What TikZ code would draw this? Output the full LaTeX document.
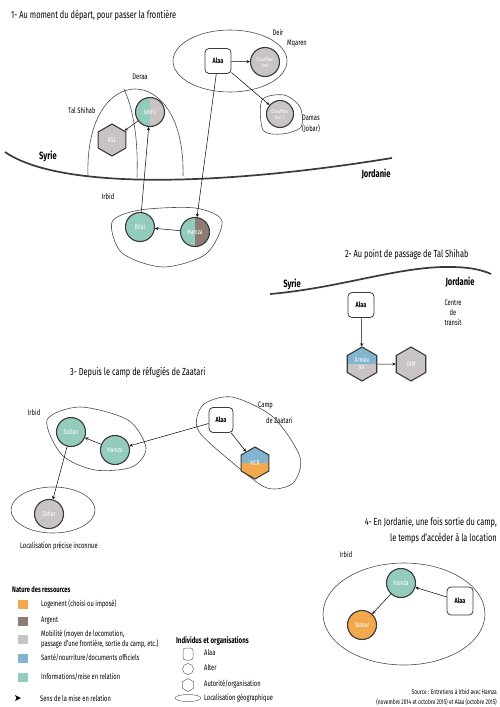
\documentclass[tikz,border=0pt]{standalone}
\usepackage{fontspec}
\setmainfont{Fira Sans}[FakeStretch=0.72]
\usetikzlibrary{shapes.geometric}

\definecolor{info}{HTML}{93CBBC}
\definecolor{argent}{HTML}{8E7B75}
\definecolor{mobil}{HTML}{C8C4C4}
\definecolor{sante}{HTML}{82B4CF}
\definecolor{logt}{HTML}{F2A94E}
\definecolor{trait}{HTML}{3A3A3A}

\tikzset{
  ttl/.style={font=\fontsize{10.3}{11}\selectfont, anchor=west, inner sep=0pt},
  lbl/.style={font=\fontsize{8}{10}\selectfont, align=center, inner sep=0pt},
  pays/.style={font=\fontsize{10.5}{12}\selectfont\bfseries, inner sep=0pt},
  ego/.style={draw=trait, line width=0.8pt, rounded corners=4pt, fill=white, minimum width=26pt, minimum height=25pt, inner sep=0pt, font=\fontsize{7.5}{8}\selectfont\bfseries},
  alter/.style={circle, draw=trait, line width=1.1pt, minimum size=29pt, inner sep=0pt, text=white, align=center, font=\fontsize{7}{7}\selectfont},
  org/.style={regular polygon, regular polygon sides=6, shape border rotate=30, draw=trait, line width=1.1pt, minimum size=34pt, inner sep=0pt, text=white, align=center, font=\fontsize{7}{7}\selectfont},
  moitieG/.style={path picture={\fill[#1] (path picture bounding box.south west) rectangle (path picture bounding box.north);}},
  moitieH/.style={path picture={\fill[#1] (path picture bounding box.west) rectangle (path picture bounding box.north east);}},
  lieu/.style={draw=black!70, line width=0.6pt},
  frontiere/.style={draw=trait, line width=1.7pt},
  fl/.style={-stealth, line width=0.5pt},
  leg/.style={font=\fontsize{8}{9.5}\selectfont, anchor=west, inner sep=0pt, align=left},
  sw/.style={fill=#1, minimum width=10pt, minimum height=9pt, inner sep=0pt},
}

\begin{document}
\begin{tikzpicture}[x=1pt, y=-1pt]
\useasboundingbox (0,0) rectangle (499,707);

% 1- au moment du depart
\node[ttl] (titreA) at (11,15) {1- Au moment du départ, pour passer la frontière};

\draw[lieu] (230,61) ellipse [x radius=57, y radius=31];
\draw[lieu] plot[smooth cycle] coordinates {(262,100) (284,95) (300,107) (301,127) (282,134) (263,130)};
\draw[lieu] (88,176) .. controls (84,60) and (186,60) .. (183,176);
\draw[lieu] (124,89) .. controls (136,115) and (138,150) .. (137,177);
\draw[lieu] plot[smooth cycle] coordinates {(112,222) (140,210) (195,208) (222,221) (206,254) (163,267) (122,253)};

\draw[frontiere] (5,152) .. controls (60,190) and (220,186) .. (392,158);

\node[lbl] (deir)    at (278,32) {Deir};
\node[lbl] (mqaren)  at (297,44) {Mqaren};
\node[lbl, anchor=west] (damas)   at (302,118) {Damas};
\node[lbl, anchor=west] (jobar)   at (302,129) {(Jobar)};
\node[lbl] (deraa)   at (140,77) {Deraa};
\node[lbl] (talshi)  at (82,110) {Tal Shihab};
\node[lbl] (irbidA)  at (108,196) {Irbid};
\node[pays] (syrieA) at (48,156) {Syrie};
\node[pays] (jordA)  at (376,174) {Jordanie};

\node[ego] (alaaA) at (218,61) {Alaa};
\node[alter, fill=mobil, font=\fontsize{5.5}{6}\selectfont] (taxiA) at (265,62) {Chauffeur\\taxi};
\node[alter, fill=mobil, minimum size=27pt, font=\fontsize{5.5}{6}\selectfont] (taxiB) at (280,114) {Chauffeur\\taxi 2};
\node[alter, fill=mobil, moitieG=info] (jebril) at (150,112) {Jebril};
\node[org, fill=mobil, minimum size=32pt] (asl) at (112,140) {ASL};
\node[alter, fill=info] (bilal) at (140,227) {Bilal};
\node[alter, fill=argent, moitieG=info] (hamzaA) at (195,232) {Hamza};

\draw[fl] (alaaA) -- (taxiA);
\draw[fl] (alaaA) -- (taxiB);
\draw[fl] (alaaA) -- (hamzaA);
\draw[fl] (jebril) -- (asl);
\draw[fl] (bilal) -- (jebril);
\draw[fl] (hamzaA) -- (bilal);

% 2- point de passage
\node[ttl] (titreB) at (345,255) {2- Au point de passage de Tal Shihab};
\draw[frontiere] (270,294) .. controls (340,288) and (400,266) .. (450,267) .. controls (470,267) and (482,270) .. (491,274);
\node[pays] (syrieB) at (292,284) {Syrie};
\node[pays] (jordB)  at (460,282) {Jordanie};
\node[lbl] (centre) at (453,313) {Centre\\de\\transit};

\node[ego] (alaaB) at (361,305) {Alaa};
\node[org, fill=mobil, moitieH=sante] (armee) at (362,364) {Armée\\Jor.};
\node[org, fill=mobil] (oim) at (411,364) {OIM};

\draw[fl] (alaaB) -- (armee);
\draw[fl] (armee) -- (oim);

% 3- camp de Zaatari
\node[ttl] (titreC) at (70,372) {3- Depuis le camp de réfugiés de Zaatari};
\draw[lieu] plot[smooth cycle] coordinates {(47,420) (80,407) (128,420) (146,448) (132,467) (95,470) (62,455)};
\draw[lieu] plot[smooth cycle] coordinates {(203,405) (232,397) (273,417) (300,457) (293,483) (267,488) (233,463) (198,430)};
\draw[lieu] (53,510) ellipse [x radius=42, y radius=23];

\node[lbl] (irbidC) at (34,412) {Irbid};
\node[lbl, anchor=west] (camp)  at (258,406) {Camp};
\node[lbl, anchor=west] (zaat)  at (266,420) {de Zaatari};
\node[lbl, anchor=west] (inconnu) at (20,546) {Localisation précise inconnue};

\node[ego, minimum width=24pt] (alaaC) at (221,420) {Alaa};
\node[org, fill=logt, moitieH=sante, minimum size=32pt] (hcr) at (255,463) {HCR};
\node[alter, fill=info] (hamzaC) at (115,450) {Hamza};
\node[alter, fill=info] (sultan) at (71,432) {Sultan};
\node[alter, fill=mobil] (zaher) at (49,514) {Zaher};

\draw[fl] (alaaC) -- (hamzaC);
\draw[fl] (alaaC) -- (hcr);
\draw[fl] (hamzaC) -- (sultan);
\draw[fl] (sultan) -- (zaher);

% 4- en Jordanie
\node[ttl, anchor=east] (titreD) at (497,523) {4- En Jordanie, une fois sortie du camp,};
\node[ttl, anchor=east] (titreE) at (497,538) {le temps d'accéder à la location};
\draw[lieu] (404,614) ellipse [x radius=81, y radius=51];
\node[lbl] (irbidD) at (346,554) {Irbid};

\node[ego, minimum height=28pt] (alaaD) at (460,601) {Alaa};
\node[alter, fill=info] (hamzaD) at (401,583) {Hamza};
\node[alter, fill=logt] (yasser) at (362,625) {Yasser};

\draw[fl] (alaaD) -- (hamzaD);
\draw[fl] (hamzaD) -- (yasser);

% source
\node[leg, anchor=east, font=\fontsize{6.8}{8}\selectfont] (srcA) at (497,692) {Source : Entretiens à Irbid avec Hamza};
\node[leg, anchor=east, font=\fontsize{6.8}{8}\selectfont] (srcB) at (497,702) {(novembre 2014 et octobre 2015) et Alaa (octobre 2015)};

% legende
\node[leg, font=\fontsize{8}{9}\selectfont\bfseries] (natRes) at (12,590) {Nature des ressources};
\node[sw=logt]   (swA) at (23,604) {};
\node[sw=argent] (swB) at (23,621) {};
\node[sw=mobil]  (swC) at (23,639) {};
\node[sw=sante]  (swD) at (23,658) {};
\node[sw=info]   (swE) at (23,677) {};
\node[leg] at (41,604) {Logement (choisi ou imposé)};
\node[leg] at (41,621) {Argent};
\node[leg] at (41,639) {Mobilité (moyen de locomotion,\\passage d'une frontière, sortie du camp, etc.)};
\node[leg] at (41,658) {Santé/nourriture/documents officiels};
\node[leg] at (41,677) {Informations/mise en relation};
\fill[black] (15,695) -- (21,698) -- (15,701) -- (16.5,698) -- cycle;
\node[leg] at (40,698) {Sens de la mise en relation};

\node[leg, font=\fontsize{8.5}{9}\selectfont\bfseries] (indiv) at (176,641) {Individus et organisations};
\draw[black!60, line width=0.5pt, rounded corners=2.5pt] (183,648) rectangle (193,660);
\draw[black!60, line width=0.5pt] (188,669) circle [radius=5.5];
\node[regular polygon, regular polygon sides=6, shape border rotate=30, draw=black!60, line width=0.5pt, minimum size=13pt, inner sep=0pt] at (188,685) {};
\draw[black!60, line width=0.5pt] (188,698) ellipse [x radius=13, y radius=3.5];
\node[leg] at (204,653) {Alaa};
\node[leg] at (204,668) {Alter};
\node[leg] at (204,684) {Autorité/organisation};
\node[leg] at (204,698) {Localisation géographique};

\end{tikzpicture}
\end{document}
